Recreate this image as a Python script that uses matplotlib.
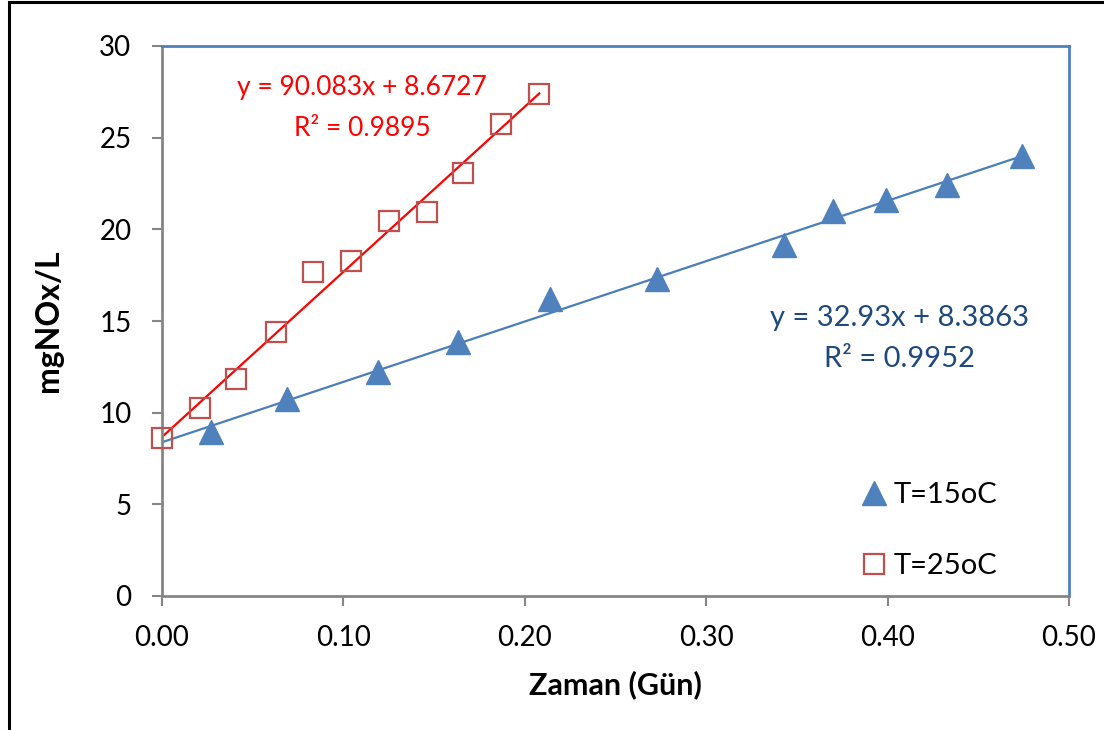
import matplotlib
matplotlib.use("Agg")
import matplotlib.pyplot as plt
import numpy as np
from matplotlib.patches import Rectangle

plt.rcParams['font.family'] = ['Lato', 'DejaVu Sans']

# Data
x15 = [0.027, 0.069, 0.119, 0.163, 0.214, 0.273, 0.343, 0.370, 0.399, 0.433, 0.474]
y15 = [8.95, 10.75, 12.2, 13.85, 16.2, 17.3, 19.15, 21.0, 21.6, 22.4, 24.0]
x25 = [0.000, 0.021, 0.041, 0.063, 0.083, 0.104, 0.125, 0.146, 0.166, 0.187, 0.208]
y25 = [8.62, 10.26, 11.84, 14.4, 17.68, 18.28, 20.46, 20.95, 23.08, 25.75, 27.4]

# Trendline coefficients (shown on chart)
slope15, icpt15, r2_15 = 32.93, 8.3863, 0.9952
slope25, icpt25, r2_25 = 90.083, 8.6727, 0.9895

labels = ["T=15oC", "T=25oC"]
xticks = [0.0, 0.1, 0.2, 0.3, 0.4, 0.5]
yticks = [0, 5, 10, 15, 20, 25, 30]

blue_marker = "#4F81BD"
blue_line = "#4A7EBB"
blue_text = "#1F497D"
red_marker = "#C0504D"
red_line = "#FF0000"
gray = "#868686"

fig = plt.figure(figsize=(11.04, 7.3), dpi=100)
ax = fig.add_axes([162/1104, 1 - 596/730, (1069-162)/1104, (596-46)/730])

# outer border
fig.patches.append(Rectangle((9/1104, -0.05), 1.2, 1 - 2/730 + 0.05,
                             transform=fig.transFigure, fill=False,
                             edgecolor="black", linewidth=2.2))

# trendlines
xl15 = np.array([0.0, max(x15)])
xl25 = np.array([0.0, max(x25)])
ax.plot(xl15, slope15 * xl15 + icpt15, color=blue_line, lw=1.6, zorder=2)
ax.plot(xl25, slope25 * xl25 + icpt25, color=red_line, lw=1.6, zorder=2)

ax.plot(x15, y15, linestyle="none", marker="^", ms=17, color=blue_marker,
        markeredgecolor=blue_marker, label=labels[0], zorder=3, clip_on=False)
ax.plot(x25, y25, linestyle="none", marker="s", ms=15, markerfacecolor="none",
        markeredgecolor=red_marker, markeredgewidth=1.6, label=labels[1], zorder=3,
        clip_on=False)

ax.set_xlim(0, 0.5)
ax.set_ylim(0, 30)
ax.set_xticks(xticks)
ax.set_yticks(yticks)
ax.set_xticklabels([f"{t:.2f}" for t in xticks])
ax.set_yticklabels([str(t) for t in yticks])
ax.tick_params(axis="both", labelsize=20, direction="out", length=7, width=1.5,
               color=gray)
ax.tick_params(axis="x", pad=14)
ax.tick_params(axis="y", pad=15)

for s in ["left", "bottom"]:
    ax.spines[s].set_color(gray)
    ax.spines[s].set_linewidth(2)
for s in ["top", "right"]:
    ax.spines[s].set_color(blue_marker)
    ax.spines[s].set_linewidth(2)

ax.set_xlabel("Zaman (Gün)", fontsize=22, fontweight="bold", labelpad=14)
ax.set_ylabel("mgNOx/L", fontsize=23, fontweight="bold", labelpad=26)

# equation labels
ax.text((362-162)/907*0.5, (596-88)/550*30, f"y = {slope25}x + {icpt25}",
        color=red_line, fontsize=19, ha="center", va="center")
ax.text((362-162)/907*0.5, (596-128)/550*30, f"R² = {r2_25}",
        color=red_line, fontsize=19, ha="center", va="center")
ax.text((900-162)/907*0.5, (596-318)/550*30, f"y = {slope15}x + {icpt15}",
        color=blue_text, fontsize=21, ha="center", va="center")
ax.text((900-162)/907*0.5, (596-359)/550*30, f"R² = {r2_15}",
        color=blue_text, fontsize=21, ha="center", va="center")

leg = ax.legend(loc="upper left",
                bbox_to_anchor=((862-162)/907, (596-482)/550),
                frameon=False, fontsize=21, handlelength=0.8, handletextpad=0.3,
                labelspacing=1.55, borderaxespad=0.0, borderpad=0.0)

fig.savefig("out.png", dpi=100)
